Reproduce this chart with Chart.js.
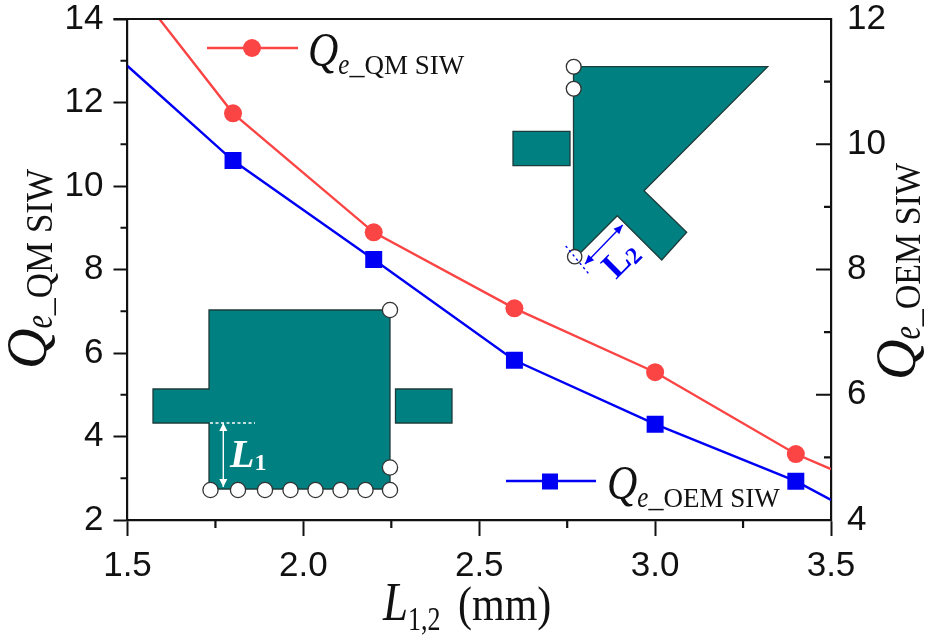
<!DOCTYPE html>
<html><head><meta charset="utf-8">
<style>html,body{margin:0;padding:0;background:#fff}#wrap{position:absolute;left:0;top:0;width:931px;height:641px}</style>
<script src="https://cdn.jsdelivr.net/npm/chart.js@4/dist/chart.umd.min.js"></script>
</head><body><div id="wrap"><canvas id="c" width="931" height="641"></canvas></div>
<script>
const xValues=[1.5,1.8,2.2,2.6,3.0,3.4,3.5];
const qmValues=[14.98,11.74,8.89,7.07,5.54,3.58,3.22];
const oemValues=[11.25,9.74,8.16,6.55,5.53,4.62,4.32];
const seriesNames=["Q e_QM SIW","Q e_OEM SIW"];
const xTicksMajor=[1.5,2.0,2.5,3.0,3.5];
const xTicksMinor=[1.75,2.25,2.75,3.25];
const yLeftTicks=[2,4,6,8,10,12,14];
const yLeftMinor=[3,5,7,9,11,13];
const yRightTicks=[4,6,8,10,12];
const yRightMinor=[5,7,9,11];

const RED='#fb4545',BLUE='#0000f5',TEAL='#008080',INK='#111',TICKFONT='"Liberation Sans Narrow","Liberation Sans"';
const SERIF='"Liberation Serif"';

function pts(ys){return xValues.map((x,i)=>({x,y:ys[i]}));}
const ends=c=>c.dataIndex===0||c.dataIndex===xValues.length-1;

function runs(ctx,list,x,y,rot){
  ctx.save();ctx.translate(x,y);ctx.rotate(rot||0);
  let cx=0;
  ctx.textAlign='left';ctx.textBaseline='alphabetic';
  for(const r of list){
    ctx.font=r.font;ctx.fillStyle=r.color||INK;
    const w=ctx.measureText(r.t).width*(r.sx||1);
    ctx.save();ctx.translate(cx,r.dy||0);ctx.scale(r.sx||1,r.sy||1);
    ctx.fillText(r.t,0,0);ctx.restore();
    cx+=w+(r.gap||0);
  }
  ctx.restore();
}
function qLabel(sub,o){
  return [
    {t:'Q',font:`italic ${o.q}px ${SERIF}`,sy:o.qy||1},
    {t:'e',font:`italic ${o.e}px ${SERIF}`,dy:o.dy,sy:o.ey||1},
    {t:'_',font:`${o.u}px ${SERIF}`,dy:o.dy},
    {t:sub,font:`${o.s}px ${SERIF}`,dy:o.dy,sy:o.sy||1}
  ];
}
function poly(ctx,p,fill,stroke){
  ctx.beginPath();p.forEach((q,i)=>i?ctx.lineTo(q[0],q[1]):ctx.moveTo(q[0],q[1]));ctx.closePath();
  ctx.fillStyle=fill;ctx.fill();ctx.lineWidth=1.3;ctx.strokeStyle=stroke;ctx.stroke();
}
function via(ctx,x,y,r){
  ctx.beginPath();ctx.arc(x,y,r,0,Math.PI*2);ctx.fillStyle='#fff';ctx.fill();
  ctx.lineWidth=1.3;ctx.strokeStyle='#333';ctx.stroke();
}
function arrow(ctx,x1,y1,x2,y2,col,h,w){
  ctx.strokeStyle=col;ctx.fillStyle=col;ctx.lineWidth=1.4;
  ctx.beginPath();ctx.moveTo(x1,y1);ctx.lineTo(x2,y2);ctx.stroke();
  const a=Math.atan2(y2-y1,x2-x1);
  for(const [x,y,d] of [[x1,y1,a],[x2,y2,a+Math.PI]]){
    ctx.save();ctx.translate(x,y);ctx.rotate(d);
    ctx.beginPath();ctx.moveTo(0,0);ctx.lineTo(h,w);ctx.lineTo(h,-w);ctx.closePath();ctx.fill();ctx.restore();
  }
}
const insetPlugin={id:'insets',afterDraw(chart){
  const ctx=chart.ctx,a=chart.chartArea,s=chart.scales;
  ctx.save();
  ctx.strokeStyle=INK;ctx.lineWidth=2.2;
  ctx.beginPath();ctx.moveTo(a.left-14,a.top);ctx.lineTo(a.right,a.top);ctx.stroke();
  ctx.beginPath();
  xTicksMinor.forEach(v=>{const p=s.x.getPixelForValue(v);ctx.moveTo(p,a.bottom);ctx.lineTo(p,a.bottom+8);});
  yLeftMinor.forEach(v=>{const p=s.y.getPixelForValue(v);ctx.moveTo(a.left,p);ctx.lineTo(a.left-7,p);});
  yRightMinor.forEach(v=>{const p=s.y2.getPixelForValue(v);ctx.moveTo(a.right,p);ctx.lineTo(a.right-7,p);});
  yRightTicks.forEach(v=>{const p=s.y2.getPixelForValue(v);ctx.moveTo(a.right,p);ctx.lineTo(a.right-15,p);});
  ctx.stroke();

  poly(ctx,[[209,310],[390,310],[390,489],[209,489],[209,423],[153,423],[153,389],[209,389]],TEAL,'#1d3b3b');
  poly(ctx,[[395.5,389],[452,389],[452,423],[395.5,423]],TEAL,'#1d3b3b');
  [210.5,238,265,290.5,315.5,340.5,365.5,390].forEach(x=>via(ctx,x,490,7.6));
  via(ctx,390,467.5,7.6);via(ctx,390,310,7.6);
  ctx.save();ctx.strokeStyle='#fff';ctx.lineWidth=1.5;ctx.setLineDash([3,2.5]);
  ctx.beginPath();ctx.moveTo(210,423);ctx.lineTo(255,423);ctx.stroke();ctx.restore();
  arrow(ctx,223.3,423,223.3,487,'#fff',8,4);
  runs(ctx,[{t:'L',font:`italic bold 40px ${SERIF}`,color:'#fff'},{t:'1',font:`bold 24px ${SERIF}`,color:'#fff',dy:3}],230,467,0);

  poly(ctx,[[573.5,66.7],[767.7,66.7],[644,190.7],[686.7,232.3],[661.7,260],[617.3,215.7],[578.3,255],[573.5,253]],TEAL,'#1d3b3b');
  poly(ctx,[[513,131.3],[570,131.3],[570,165.7],[513,165.7]],TEAL,'#1d3b3b');
  via(ctx,573.7,66.7,7.4);via(ctx,573.7,88.7,7.4);via(ctx,574.7,256.7,7.2);
  ctx.save();ctx.strokeStyle=BLUE;ctx.lineWidth=1.4;ctx.setLineDash([2.5,3]);
  ctx.beginPath();ctx.moveTo(565.7,246);ctx.lineTo(588.3,273.3);ctx.stroke();ctx.restore();
  arrow(ctx,585,264,622.7,225,BLUE,9,4);
  runs(ctx,[{t:'L',font:`bold 36px ${SERIF}`,color:BLUE},{t:'2',font:`bold 24px ${SERIF}`,color:BLUE,dy:3}],616,280,-Math.PI/4);

  ctx.lineWidth=2.4;
  ctx.strokeStyle=RED;ctx.beginPath();ctx.moveTo(207,48);ctx.lineTo(298,48);ctx.stroke();
  ctx.fillStyle=RED;ctx.beginPath();ctx.arc(252,48,9,0,Math.PI*2);ctx.fill();
  ctx.strokeStyle=BLUE;ctx.beginPath();ctx.moveTo(506,481);ctx.lineTo(596,481);ctx.stroke();
  ctx.fillStyle=BLUE;ctx.fillRect(542,473.5,16,16);

  const leg={q:42,qy:1.17,e:25,ey:1.2,u:30,s:27,sy:1.05,dy:8};
  runs(ctx,qLabel('QM SIW',leg),308,66,0);
  runs(ctx,qLabel('OEM SIW',leg),607,499,0);
  runs(ctx,[{t:'L',font:`italic 45px ${SERIF}`,sy:1.2},{t:'1,2',font:`26px ${SERIF}`,dy:10,sy:1.3,gap:0}],383,620,0);
  runs(ctx,[{t:'(mm)',font:`42px ${SERIF}`,sy:1.15}],458,620,0);
  runs(ctx,qLabel('QM SIW',{q:56,e:30,ey:1.3,u:34,s:35,sy:1.1,dy:6}),46,369,-Math.PI/2);
  runs(ctx,qLabel('OEM SIW',{q:56,e:30,ey:1.3,u:34,s:34,sy:1.05,dy:5}),915,380,-Math.PI/2);
  ctx.restore();
}};

new Chart(document.getElementById('c'),{
  type:'scatter',
  data:{datasets:[
    {label:seriesNames[0],data:pts(qmValues),yAxisID:'y',showLine:true,borderColor:RED,backgroundColor:RED,
     borderWidth:2.4,pointStyle:'circle',pointRadius:c=>ends(c)?0:9,pointBorderWidth:0},
    {label:seriesNames[1],data:pts(oemValues),yAxisID:'y2',showLine:true,borderColor:BLUE,backgroundColor:BLUE,
     borderWidth:2.4,pointStyle:'rect',pointRadius:c=>ends(c)?0:12,pointBorderWidth:0}
  ]},
  plugins:[insetPlugin],
  options:{
    responsive:false,animation:false,
    layout:{padding:{top:0,left:0,right:0,bottom:0}},
    plugins:{legend:{display:false},tooltip:{enabled:false}},
    scales:{
      x:{type:'linear',min:1.5,max:3.5,
        afterBuildTicks:s=>{s.ticks=xTicksMajor.map(value=>({value}));},
        afterFit:s=>{s.height=121;s.paddingTop=0;},
        border:{color:INK,width:2.2},
        grid:{drawOnChartArea:false,tickLength:16,tickWidth:2,tickColor:INK},
        ticks:{color:INK,font:{family:TICKFONT,size:35},padding:9,maxRotation:0,callback:v=>v.toFixed(1)}},
      y:{type:'linear',position:'left',min:2,max:14,
        afterBuildTicks:s=>{s.ticks=yLeftTicks.map(value=>({value}));},
        afterFit:s=>{s.width=127.5;s.paddingTop=19;s.paddingBottom=0;},
        border:{color:INK,width:2.2},
        grid:{drawOnChartArea:false,tickLength:14,tickWidth:2,tickColor:INK},
        ticks:{color:INK,font:{family:TICKFONT,size:35},padding:10}},
      y2:{type:'linear',position:'right',min:4,max:12,
        afterBuildTicks:s=>{s.ticks=yRightTicks.map(value=>({value}));},
        afterFit:s=>{s.width=100;s.paddingTop=19;s.paddingBottom=0;},
        border:{color:INK,width:2.2},
        grid:{drawOnChartArea:false,drawTicks:false},
        ticks:{color:INK,font:{family:TICKFONT,size:35},padding:16}}
    }
  }
});
</script></body></html>
